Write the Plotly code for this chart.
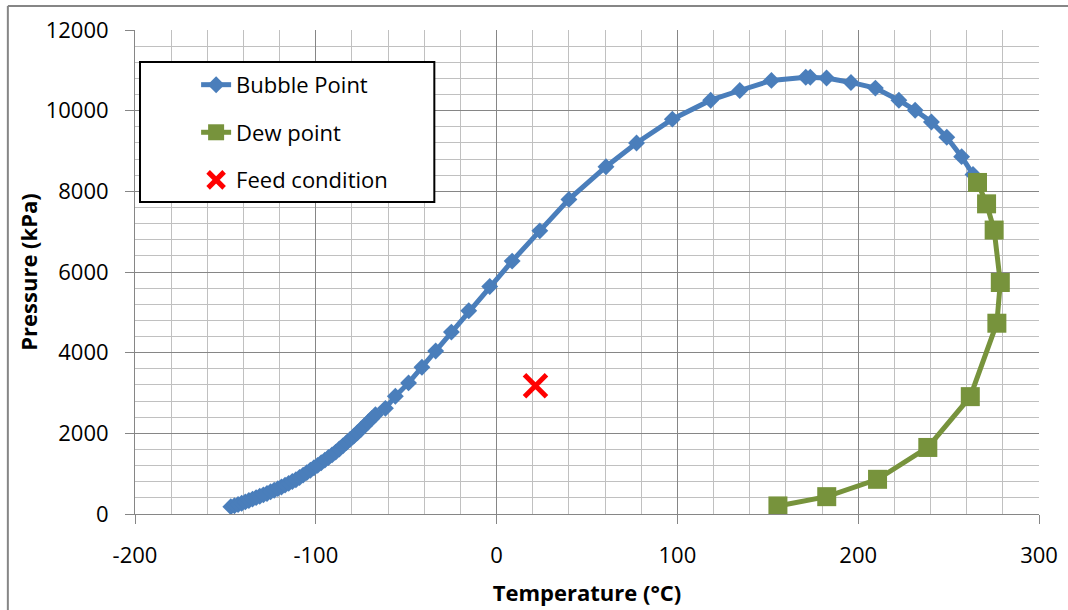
import plotly.graph_objects as go

# Bubble point curve
bubble_T = [-147, -145, -143, -141, -139, -137, -135, -133, -131, -129, -127, -125,
            -123, -121, -119, -117, -115, -113, -111, -109, -107, -105, -103, -101,
            -99, -97, -95, -93, -91, -89, -87, -85, -83, -81, -79, -77, -75, -73,
            -71, -69, -67, -61.5, -56, -48.7, -41.3, -33.7, -25, -15.4, -3.8, 8.6,
            23.9, 40, 60.5, 77.4, 97.2, 118.4, 134.5, 152, 171, 173.5, 182.5, 196,
            209.5, 222.5, 231.5, 240.5, 249, 257.2, 263.5]
bubble_P = [180, 205, 235, 265, 300, 335, 370, 405, 440, 475, 510, 550,
            590, 630, 670, 715, 760, 805, 850, 905, 965, 1025, 1085, 1145,
            1205, 1270, 1335, 1400, 1465, 1535, 1610, 1690, 1770, 1850, 1930, 2015, 2100, 2190,
            2280, 2370, 2460, 2620, 2920, 3250, 3640, 4040, 4510, 5040, 5640, 6270,
            7020, 7800, 8610, 9200, 9790, 10260, 10500, 10750, 10830, 10830, 10810, 10700,
            10560, 10260, 10010, 9720, 9340, 8860, 8420]

# Dew point curve
dew_T = [266, 271, 275.2, 278.6, 276.7, 262, 238.5, 210.7, 182.6, 155.6]
dew_P = [8220, 7690, 7040, 5740, 4730, 2910, 1650, 860, 430, 200]

# Feed condition
feed_T = [21.5]
feed_P = [3180]

x_ticks = [-200, -100, 0, 100, 200, 300]
y_ticks = [0, 2000, 4000, 6000, 8000, 10000, 12000]

FONT = "Open Sans"
FS = 22
fig = go.Figure()

fig.add_trace(go.Scatter(
    x=bubble_T, y=bubble_P, mode="lines+markers", name="Bubble Point",
    line=dict(color="#4A7EBB", width=5),
    marker=dict(symbol="diamond", size=13, color="#4A7EBB"),
    legendgroup="a",
))
fig.add_trace(go.Scatter(
    x=dew_T, y=dew_P, mode="lines+markers", name="Dew point",
    line=dict(color="#77933C", width=5),
    marker=dict(symbol="square", size=19, color="#77933C"),
    legendgroup="b",
))
fig.add_trace(go.Scatter(
    x=feed_T, y=feed_P, mode="markers", name="Feed condition",
    marker=dict(symbol="x-thin", size=22, color="#FF0000",
                line=dict(color="#FF0000", width=5)),
    legendgroup="c",
))

fig.update_xaxes(
    range=[-200, 300], tickvals=x_ticks, ticktext=[str(v) for v in x_ticks],
    showgrid=True, gridcolor="#868686", gridwidth=1,
    minor=dict(dtick=20, showgrid=True, gridcolor="#C0C0C0", gridwidth=1),
    showline=True, linecolor="#868686", linewidth=1,
    ticks="outside", ticklen=9, tickcolor="#868686",
    ticklabelstandoff=13, zeroline=False, automargin=False,
    tickfont=dict(family=FONT, size=FS, color="black"),
    title=dict(text="<b>Temperature (°C)</b>", standoff=17,
               font=dict(family=FONT, size=FS, color="black")),
)
fig.update_yaxes(
    range=[0, 12000], tickvals=y_ticks, ticktext=[str(v) for v in y_ticks],
    showgrid=True, gridcolor="#868686", gridwidth=1,
    minor=dict(dtick=400, showgrid=True, gridcolor="#C0C0C0", gridwidth=1),
    showline=True, linecolor="#868686", linewidth=1,
    ticks="outside", ticklen=9, tickcolor="#868686",
    ticklabelstandoff=12, zeroline=False, automargin=False,
    tickfont=dict(family=FONT, size=FS, color="black"),
    title=dict(text="<b>Pressure (kPa)</b>", standoff=1,
               font=dict(family=FONT, size=FS, color="black")),
)

fig.update_layout(
    width=1068, height=610,
    margin=dict(l=135, r=29, t=30, b=96),
    plot_bgcolor="white", paper_bgcolor="white",
    font=dict(family=FONT, size=FS, color="black"),
    legend=dict(
        x=0.0676, y=0.930, xanchor="left", yanchor="top",
        bgcolor="rgba(0,0,0,0)", borderwidth=0,
        font=dict(family=FONT, size=FS, color="black"),
        tracegroupgap=16,
    ),
    shapes=[
        # legend frame
        dict(type="rect", xref="paper", yref="paper", layer="above",
             x0=(140 - 135) / 903, x1=(434 - 135) / 903,
             y0=(514 - 202) / 484, y1=(514 - 62) / 484,
             fillcolor="white", line=dict(color="black", width=2)),
        # chart-area border (top and left)
        dict(type="line", xref="paper", yref="paper",
             x0=(8 - 135) / 903, x1=1.04, y0=(514 - 6) / 484, y1=(514 - 6) / 484,
             line=dict(color="#868686", width=2)),
        dict(type="line", xref="paper", yref="paper",
             x0=(8 - 135) / 903, x1=(8 - 135) / 903, y0=(514 - 6) / 484, y1=-0.21,
             line=dict(color="#868686", width=2)),
    ],
)

fig.write_html("out.html", config={"displayModeBar": False},
               post_script="document.body.style.margin='0px';document.body.style.overflow='hidden';")
